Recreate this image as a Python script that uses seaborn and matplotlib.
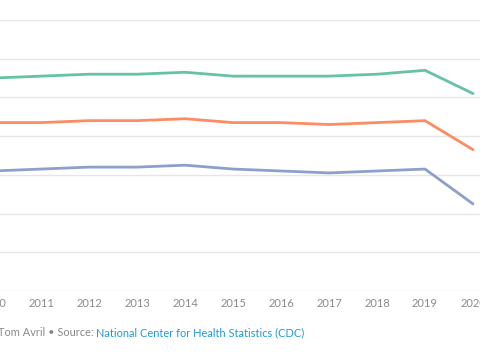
import pandas as pd
import matplotlib.pyplot as plt
import seaborn as sns

# life expectancy at birth, US (CDC)
years = list(range(2010, 2021))
female = [81.0, 81.1, 81.2, 81.2, 81.3, 81.1, 81.1, 81.1, 81.2, 81.4, 80.2]
total = [78.7, 78.7, 78.8, 78.8, 78.9, 78.7, 78.7, 78.6, 78.7, 78.8, 77.3]
male = [76.2, 76.3, 76.4, 76.4, 76.5, 76.3, 76.2, 76.1, 76.2, 76.3, 74.5]

series_names = ["Female", "Total", "Male"]
series_colors = ["#66c2a5", "#fc8d62", "#8da0cb"]
y_ticks = [70, 72, 74, 76, 78, 80, 82, 84]

df = pd.DataFrame({"year": years, "Female": female, "Total": total, "Male": male})
long_df = df.melt(id_vars="year", var_name="group", value_name="years")

sns.set_theme(style="white")
plt.rcParams["font.family"] = ["Lato", "DejaVu Sans"]

W, H = 480, 353
fig = plt.figure(figsize=(W / 100, H / 100), dpi=100)

# axes run past the figure edges, the reference is a crop
left_px, right_px = -40, 490
bottom_px, top_px = H - 291, H - 20
ax = fig.add_axes([left_px / W, bottom_px / H, (right_px - left_px) / W, (top_px - bottom_px) / H])

sns.lineplot(
    data=long_df,
    x="year",
    y="years",
    hue="group",
    hue_order=series_names,
    palette=series_colors,
    linewidth=2.0,
    legend=False,
    ax=ax,
)

ax.set_xlim(2010 + (left_px + 7) / 48, 2010 + (right_px + 7) / 48)
ax.set_ylim(y_ticks[0], y_ticks[-1])
ax.set_yticks(y_ticks)
ax.set_yticklabels([])
ax.set_xticks(years)
ax.set_xticklabels([str(y) for y in years], color="#8a8a8a", fontsize=8)
ax.tick_params(axis="x", length=0, pad=5)
ax.tick_params(axis="y", length=0)
ax.grid(axis="y", color="#e6e6e6", linewidth=1.0)
ax.set_axisbelow(True)
ax.set_xlabel("")
ax.set_ylabel("")
for s in ax.spines.values():
    s.set_visible(False)

t1 = fig.text(-2 / W, (H - 332.5) / H, "Tom Avril \u2022 Source: ", color="#8a8a8a",
              fontsize=7.9, va="center", ha="left")
fig.canvas.draw()
ax.annotate("National Center for Health Statistics (CDC)", xy=(1, 0.5), xycoords=t1,
            va="center", ha="left", color="#1e9ad6", fontsize=7.9,
            annotation_clip=False)

fig.savefig("out.png", dpi=100)
